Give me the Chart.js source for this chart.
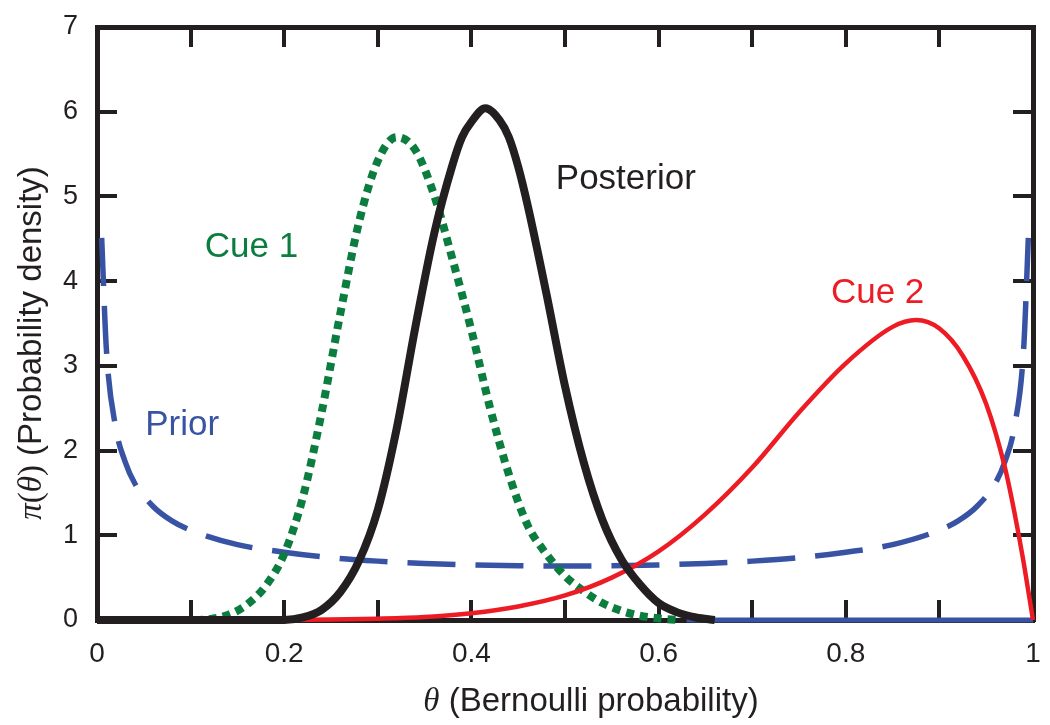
<!DOCTYPE html>
<html>
<head>
<meta charset="utf-8">
<title>Prior, cues and posterior</title>
<script src="https://cdn.jsdelivr.net/npm/chart.js@4.4.1/dist/chart.umd.min.js"></script>
<style>
  html, body { margin: 0; padding: 0; background: #fff; }
  canvas { display: block; }
</style>
</head>
<body>
<canvas id="densityChart" width="1050" height="725"></canvas>
<script>
// θ (x) and density (y)
const posteriorTheta = [0, 0.10, 0.20, 0.22, 0.24, 0.26, 0.28, 0.30, 0.32, 0.34, 0.36, 0.38, 0.39, 0.40, 0.415, 0.43, 0.44, 0.45, 0.46, 0.48, 0.50, 0.52, 0.54, 0.56, 0.58, 0.60, 0.62, 0.64, 0.66];
const posteriorDensity = [0, 0, 0, 0.03, 0.12, 0.33, 0.70, 1.30, 2.25, 3.45, 4.55, 5.38, 5.70, 5.88, 6.04, 5.90, 5.70, 5.35, 4.90, 3.86, 2.76, 1.86, 1.18, 0.72, 0.42, 0.20, 0.09, 0.03, 0];

const cue1Theta = [0, 0.10, 0.12, 0.14, 0.16, 0.18, 0.20, 0.22, 0.24, 0.26, 0.28, 0.30, 0.32, 0.34, 0.36, 0.38, 0.40, 0.42, 0.44, 0.46, 0.48, 0.50, 0.52, 0.54, 0.56, 0.58, 0.60, 0.62];
const cue1Density = [0, 0, 0.01, 0.06, 0.18, 0.40, 0.78, 1.45, 2.45, 3.62, 4.70, 5.42, 5.70, 5.55, 5.02, 4.25, 3.42, 2.50, 1.72, 1.12, 0.78, 0.52, 0.34, 0.20, 0.11, 0.05, 0.02, 0];

const cue2Theta = [0, 0.20, 0.25, 0.30, 0.35, 0.40, 0.45, 0.50, 0.55, 0.60, 0.65, 0.70, 0.75, 0.80, 0.85, 0.875, 0.90, 0.925, 0.95, 0.97, 0.98, 0.99, 1.0];
const cue2Density = [0, 0, 0.005, 0.015, 0.035, 0.08, 0.16, 0.29, 0.50, 0.81, 1.25, 1.80, 2.45, 3.03, 3.46, 3.54, 3.44, 3.12, 2.55, 1.80, 1.28, 0.68, 0];

const priorTheta = [0.005, 0.01, 0.02, 0.03, 0.04, 0.06, 0.08, 0.10, 0.15, 0.20, 0.25, 0.30, 0.35, 0.40, 0.45, 0.50, 0.55, 0.60, 0.65, 0.70, 0.75, 0.80, 0.85, 0.90, 0.92, 0.94, 0.96, 0.97, 0.98, 0.99, 0.995];
const priorDensity = [4.51, 3.20, 2.27, 1.87, 1.62, 1.34, 1.17, 1.06, 0.89, 0.80, 0.735, 0.695, 0.668, 0.650, 0.640, 0.637, 0.640, 0.650, 0.668, 0.695, 0.735, 0.80, 0.89, 1.06, 1.17, 1.34, 1.62, 1.87, 2.27, 3.20, 4.51];

// flat blue segment lying on the x axis
const priorFloorTheta = [0.63, 1.0];
const priorFloorDensity = [0, 0];

// ticks
const xTickValues = [0, 0.1, 0.2, 0.3, 0.4, 0.5, 0.6, 0.7, 0.8, 0.9, 1];
const xTickLabels = ['0', '', '0.2', '', '0.4', '', '0.6', '', '0.8', '', '1'];
const yTickValues = [0, 1, 2, 3, 4, 5, 6, 7];
const yTickLabels = ['0', '1', '2', '3', '4', '5', '6', '7'];

// curve names written inside the plot
const curveNames = ['Posterior', 'Cue 1', 'Prior', 'Cue 2'];

const SANS = '"Liberation Sans", Arial, Helvetica, sans-serif';
const SERIF = '"Liberation Serif", "DejaVu Serif", serif';
const INK = '#231f20';

const nameStyle = [
    { color: INK, theta: 0.565, density: 5.09 },
    { color: '#0b7d3e', theta: 0.165, density: 4.29 },
    { color: '#3953a4', theta: 0.091, density: 2.18 },
    { color: '#ed1c24', theta: 0.834, density: 3.74 }
];

function toPoints(xs, ys) {
    return xs.map((x, i) => ({ x: x, y: ys[i] }));
}

// draw a line of text made of pieces with different fonts, centred on cx
function drawMixedText(ctx, parts, cx, baseline, angle) {
    ctx.save();
    ctx.translate(cx, baseline);
    ctx.rotate(angle);
    let total = 0;
    parts.forEach(p => { ctx.font = p.font; total += ctx.measureText(p.text).width; });
    let x = -total / 2;
    ctx.textAlign = 'left';
    ctx.textBaseline = 'alphabetic';
    ctx.fillStyle = INK;
    parts.forEach(p => {
        ctx.font = p.font;
        ctx.fillText(p.text, x, 0);
        x += ctx.measureText(p.text).width;
    });
    ctx.restore();
}

const textPlugin = {
    id: 'curveText',
    afterDatasetsDraw(chart) {
        const ctx = chart.ctx;
        const xs = chart.scales.x;
        const ys = chart.scales.y;
        ctx.save();
        ctx.font = '35px ' + SANS;
        ctx.textAlign = 'center';
        ctx.textBaseline = 'alphabetic';
        curveNames.forEach((name, i) => {
            ctx.fillStyle = nameStyle[i].color;
            ctx.fillText(name, xs.getPixelForValue(nameStyle[i].theta), ys.getPixelForValue(nameStyle[i].density));
        });
        ctx.restore();

        // axis titles (greek letters in italic serif)
        drawMixedText(ctx, [
            { text: 'θ', font: 'italic 33px ' + SERIF },
            { text: ' (Bernoulli probability)', font: '33px ' + SANS }
        ], 591, 711, 0);
        drawMixedText(ctx, [
            { text: 'π', font: 'italic 33px ' + SERIF },
            { text: '(', font: '33px ' + SERIF },
            { text: 'θ', font: 'italic 33px ' + SERIF },
            { text: ')', font: '33px ' + SERIF },
            { text: ' (Probability density)', font: '33px ' + SANS }
        ], 41, 343, -Math.PI / 2);
    }
};

function frameAxis(position, size, showLabels) {
    const horizontal = position === 'top' || position === 'bottom';
    return {
        type: 'linear',
        position: position,
        min: 0,
        max: horizontal ? 1 : 7,
        afterBuildTicks: scale => {
            scale.ticks = (horizontal ? xTickValues : yTickValues).map(v => ({ value: v }));
        },
        afterFit: scale => {
            if (horizontal) scale.height = size; else scale.width = size;
            // no extra room for overhanging labels, the frame sits at fixed pixels
            scale.paddingLeft = 0;
            scale.paddingRight = 0;
            scale.paddingTop = 0;
            scale.paddingBottom = 0;
        },
        border: { display: true, color: INK, width: 5 },
        grid: {
            drawOnChartArea: false,
            drawTicks: true,
            tickLength: -20,
            color: INK,
            lineWidth: 4
        },
        ticks: {
            display: showLabels,
            autoSkip: false,
            maxRotation: 0,
            color: INK,
            font: { family: SANS, size: horizontal ? 28 : 27 },
            padding: horizontal ? 37 : 39,
            callback: (value, index) => horizontal ? xTickLabels[index] : yTickLabels[index]
        }
    };
}

new Chart(document.getElementById('densityChart').getContext('2d'), {
    type: 'line',
    data: {
        datasets: [
            {
                label: 'Posterior',
                data: toPoints(posteriorTheta, posteriorDensity),
                borderColor: INK,
                borderWidth: 8
            },
            {
                label: 'Cue 2',
                data: toPoints(cue2Theta, cue2Density),
                borderColor: '#ed1c24',
                borderWidth: 4.5
            },
            {
                label: 'Cue 1',
                data: toPoints(cue1Theta, cue1Density),
                borderColor: '#0b7d3e',
                borderWidth: 8,
                borderDash: [8, 6]
            },
            {
                label: 'Prior',
                data: toPoints(priorTheta, priorDensity),
                borderColor: '#3953a4',
                borderWidth: 5.5,
                borderDash: [48, 20]
            },
            {
                label: 'Prior floor',
                data: toPoints(priorFloorTheta, priorFloorDensity),
                borderColor: '#3953a4',
                borderWidth: 5
            }
        ]
    },
    options: {
        responsive: false,
        animation: false,
        events: [],
        layout: { padding: 0 },
        datasets: {
            line: {
                pointRadius: 0,
                fill: false,
                clip: false,
                cubicInterpolationMode: 'monotone',
                borderCapStyle: 'butt'
            }
        },
        plugins: {
            legend: { display: false },
            tooltip: { enabled: false },
            title: { display: false }
        },
        scales: {
            x: frameAxis('bottom', 105, true),
            x2: frameAxis('top', 27, false),
            y: frameAxis('left', 97, true),
            y2: frameAxis('right', 17, false)
        }
    },
    plugins: [textPlugin]
});
</script>
</body>
</html>
